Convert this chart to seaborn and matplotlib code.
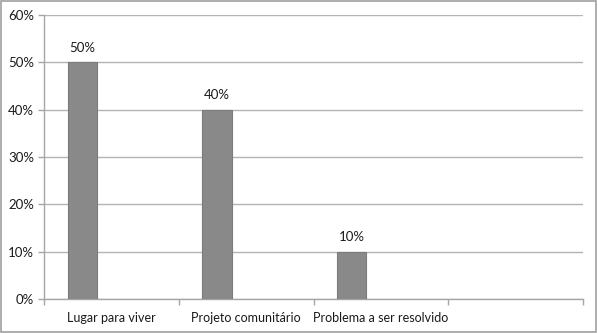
import matplotlib
matplotlib.use("Agg")
import matplotlib.pyplot as plt
import matplotlib.ticker as mticker
import seaborn as sns
import pandas as pd

categories = ["Lugar para viver", "Projeto comunitário", "Problema a ser resolvido"]
values = [0.50, 0.40, 0.10]
slots = categories + [""]
series_levels = ["Série 1", "Série 2", "Série 3"]

sns.set_theme(style="white")
plt.rcParams["font.family"] = ["Lato", "DejaVu Sans"]

df = pd.DataFrame({"categoria": categories, "valor": values, "serie": series_levels[0]})

fig = plt.figure(figsize=(5.98, 3.33), dpi=100)
ax = fig.add_axes([44 / 598, 1 - 299 / 333, (583 - 44) / 598, (299 - 15) / 333])

sns.barplot(data=df, x="categoria", y="valor", hue="serie", order=slots,
            hue_order=series_levels, palette=["#898989"] * 3, width=0.65, dodge=True,
            edgecolor="#7b7b7b", linewidth=0.8, legend=False, ax=ax, zorder=3)

ax.set_xlim(-0.5, 3.5)
ax.set_ylim(0, 0.6)
ax.set_yticks([i / 10 for i in range(7)])
ax.yaxis.set_major_formatter(mticker.PercentFormatter(1.0, decimals=0))
ax.grid(axis="y", color="#b3b3b3", linewidth=1.0, zorder=0)
ax.set_axisbelow(True)

ax.set_xticks(range(len(slots)))
ax.set_xticklabels(slots)
ax.set_xticks([i - 0.5 for i in range(len(slots) + 1)], minor=True)
ax.tick_params(axis="x", which="major", length=0, pad=9, labelsize=9.0, labelcolor="#1a1a1a")
ax.tick_params(axis="x", which="minor", length=4, width=1, color="#a6a6a6", direction="out")
ax.tick_params(axis="y", length=4, width=1, color="#a6a6a6", direction="out", pad=3,
               labelsize=9.5, labelcolor="#1a1a1a")
ax.tick_params(bottom=True, left=True, which="both")

for side in ["top", "right"]:
    ax.spines[side].set_visible(False)
for side in ["left", "bottom"]:
    ax.spines[side].set_color("#a6a6a6")
    ax.spines[side].set_linewidth(1.0)

ax.set_xlabel("")
ax.set_ylabel("")

for bar in ax.patches:
    h = bar.get_height()
    if h == h and bar.get_width() > 0 and h > 0:
        ax.annotate(f"{h:.0%}", (bar.get_x() + bar.get_width() / 2, h),
                    xytext=(0, 6), textcoords="offset points", ha="center", va="bottom",
                    fontsize=9.5, color="#1a1a1a")

fig.patches.append(plt.Rectangle((0.002, 0.003), 0.995, 0.994, transform=fig.transFigure,
                                 fill=False, edgecolor="#a0a0a0", linewidth=1.2))

fig.savefig("out.png", dpi=100)
